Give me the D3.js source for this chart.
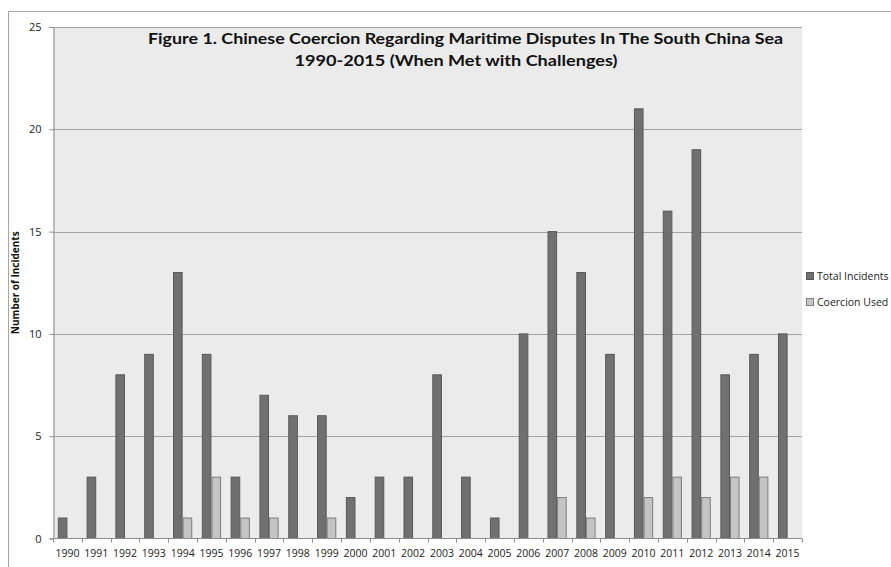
<!DOCTYPE html>
<html>
<head>
<meta charset="utf-8">
<script src="https://cdn.jsdelivr.net/npm/d3@7"></script>
<style>
  body { margin: 0; background: #fff; }
  svg { display: block; font-family: "Open Sans", "Liberation Sans", sans-serif; }
</style>
</head>
<body>
<svg id="chart" width="891" height="567"></svg>
<script>
// data
const years = ["1990","1991","1992","1993","1994","1995","1996","1997","1998","1999","2000","2001","2002",
  "2003","2004","2005","2006","2007","2008","2009","2010","2011","2012","2013","2014","2015"];
const totalIncidents = [1,3,8,9,13,9,3,7,6,6,2,3,3,8,3,1,10,15,13,9,21,16,19,8,9,10];
const coercionUsed   = [0,0,0,0,1,3,1,1,0,1,0,0,0,0,0,0,0,2,1,0,2,3,2,3,3,0];
const seriesNames = ["Total Incidents", "Coercion Used"];
const yTicks = [0, 5, 10, 15, 20, 25];
const titleLines = ["Figure 1. Chinese Coercion Regarding Maritime Disputes In The South China Sea",
  "1990-2015 (When Met with Challenges)"];

const fill = ["#707070", "#c4c4c4"];
const stroke = ["#585858", "#7d7d7d"];

const svg = d3.select("#chart");
const plotL = 53, plotR = 802, plotT = 27, plotB = 538.5;

// outer chart border
svg.append("rect")
    .attr("x", 8.5).attr("y", 11.5)
    .attr("width", 900).attr("height", 600)
    .attr("fill", "none").attr("stroke", "#a6a6a6");

const x = d3.scaleBand().domain(years).range([plotL, plotR]);
const xInner = d3.scaleBand().domain(seriesNames)
    .range([x.bandwidth() / 3, x.bandwidth()]);
const y = d3.scaleLinear().domain([0, 25]).range([plotB, plotT]);

// plot background
svg.append("rect")
    .attr("x", plotL).attr("y", plotT)
    .attr("width", plotR - plotL).attr("height", plotB - plotT)
    .attr("fill", "#ebebeb");

// gridlines
svg.append("g").selectAll("line")
    .data(yTicks.filter(d => d > 0))
    .join("line")
    .attr("x1", plotL).attr("x2", plotR)
    .attr("y1", d => Math.round(y(d)) + 0.5).attr("y2", d => Math.round(y(d)) + 0.5)
    .attr("stroke", "#a3a3a3");

// bars
const rows = years.map((yr, i) => ({ year: yr, vals: [totalIncidents[i], coercionUsed[i]] }));
const groups = svg.append("g").selectAll("g")
    .data(rows)
    .join("g")
    .attr("transform", d => `translate(${x(d.year) - x.bandwidth() / 6},0)`);

groups.selectAll("rect")
    .data(d => d.vals.map((v, k) => ({ v, k })).filter(e => e.v > 0))
    .join("rect")
    .attr("x", d => xInner(seriesNames[d.k]) + 0.5)
    .attr("width", xInner.bandwidth() - 1)
    .attr("y", d => y(d.v))
    .attr("height", d => y(0) - y(d.v))
    .attr("fill", d => fill[d.k])
    .attr("stroke", d => stroke[d.k]);

// y axis
const yAxis = svg.append("g")
    .attr("transform", `translate(${plotL + 0.5},0)`)
    .call(d3.axisLeft(y).tickValues(yTicks).tickSize(4).tickPadding(8));
yAxis.select(".domain").attr("stroke", "#8c8c8c");
yAxis.selectAll(".tick line").attr("stroke", "#8c8c8c");
yAxis.selectAll("text").attr("font-size", 11).attr("fill", "#222")
    .attr("font-family", "Open Sans, sans-serif");

// x axis, ticks at category boundaries
const xAxisG = svg.append("g").attr("transform", `translate(0,${plotB})`);
xAxisG.append("line")
    .attr("x1", plotL).attr("x2", plotR)
    .attr("stroke", "#8c8c8c");
xAxisG.selectAll(".tk")
    .data(years.concat(["end"]))
    .join("line")
    .attr("x1", (d, i) => Math.round(plotL + i * x.step()) + 0.5)
    .attr("x2", (d, i) => Math.round(plotL + i * x.step()) + 0.5)
    .attr("y1", 0).attr("y2", 4)
    .attr("stroke", "#8c8c8c");
xAxisG.selectAll("text")
    .data(years)
    .join("text")
    .attr("x", d => x(d) + x.bandwidth() / 2)
    .attr("y", 18)
    .attr("text-anchor", "middle")
    .attr("font-size", 10.5)
    .attr("fill", "#222")
    .text(d => d);

// y axis title
svg.append("text")
    .attr("transform", `translate(19,${(plotT + plotB) / 2}) rotate(-90)`)
    .attr("text-anchor", "middle")
    .attr("font-size", 10)
    .attr("font-weight", "bold")
    .attr("fill", "#111")
    .text("Number of Incidents");

// title
svg.append("g").selectAll("text")
    .data(titleLines)
    .join("text")
    .attr("x", (d, i) => i === 0 ? 465.5 : 456)
    .attr("y", (d, i) => 44 + i * 22)
    .attr("text-anchor", "middle")
    .attr("font-family", "Lato, sans-serif")
    .attr("font-size", 16)
    .attr("font-weight", "bold")
    .attr("fill", "#111")
    .attr("textLength", (d, i) => i === 0 ? 635 : 323)
    .attr("lengthAdjust", "spacingAndGlyphs")
    .text(d => d);

// legend
const legend = svg.append("g").attr("transform", "translate(806,272)")
    .selectAll("g")
    .data(seriesNames)
    .join("g")
    .attr("transform", (d, i) => `translate(0,${i * 26})`);
legend.append("rect")
    .attr("x", 0.5).attr("y", 0.5)
    .attr("width", 7).attr("height", 7)
    .attr("fill", (d, i) => fill[i])
    .attr("stroke", (d, i) => stroke[i]);
legend.append("text")
    .attr("x", 11).attr("y", 8)
    .attr("font-size", 10.5)
    .attr("fill", "#222")
    .text(d => d);
</script>
</body>
</html>
